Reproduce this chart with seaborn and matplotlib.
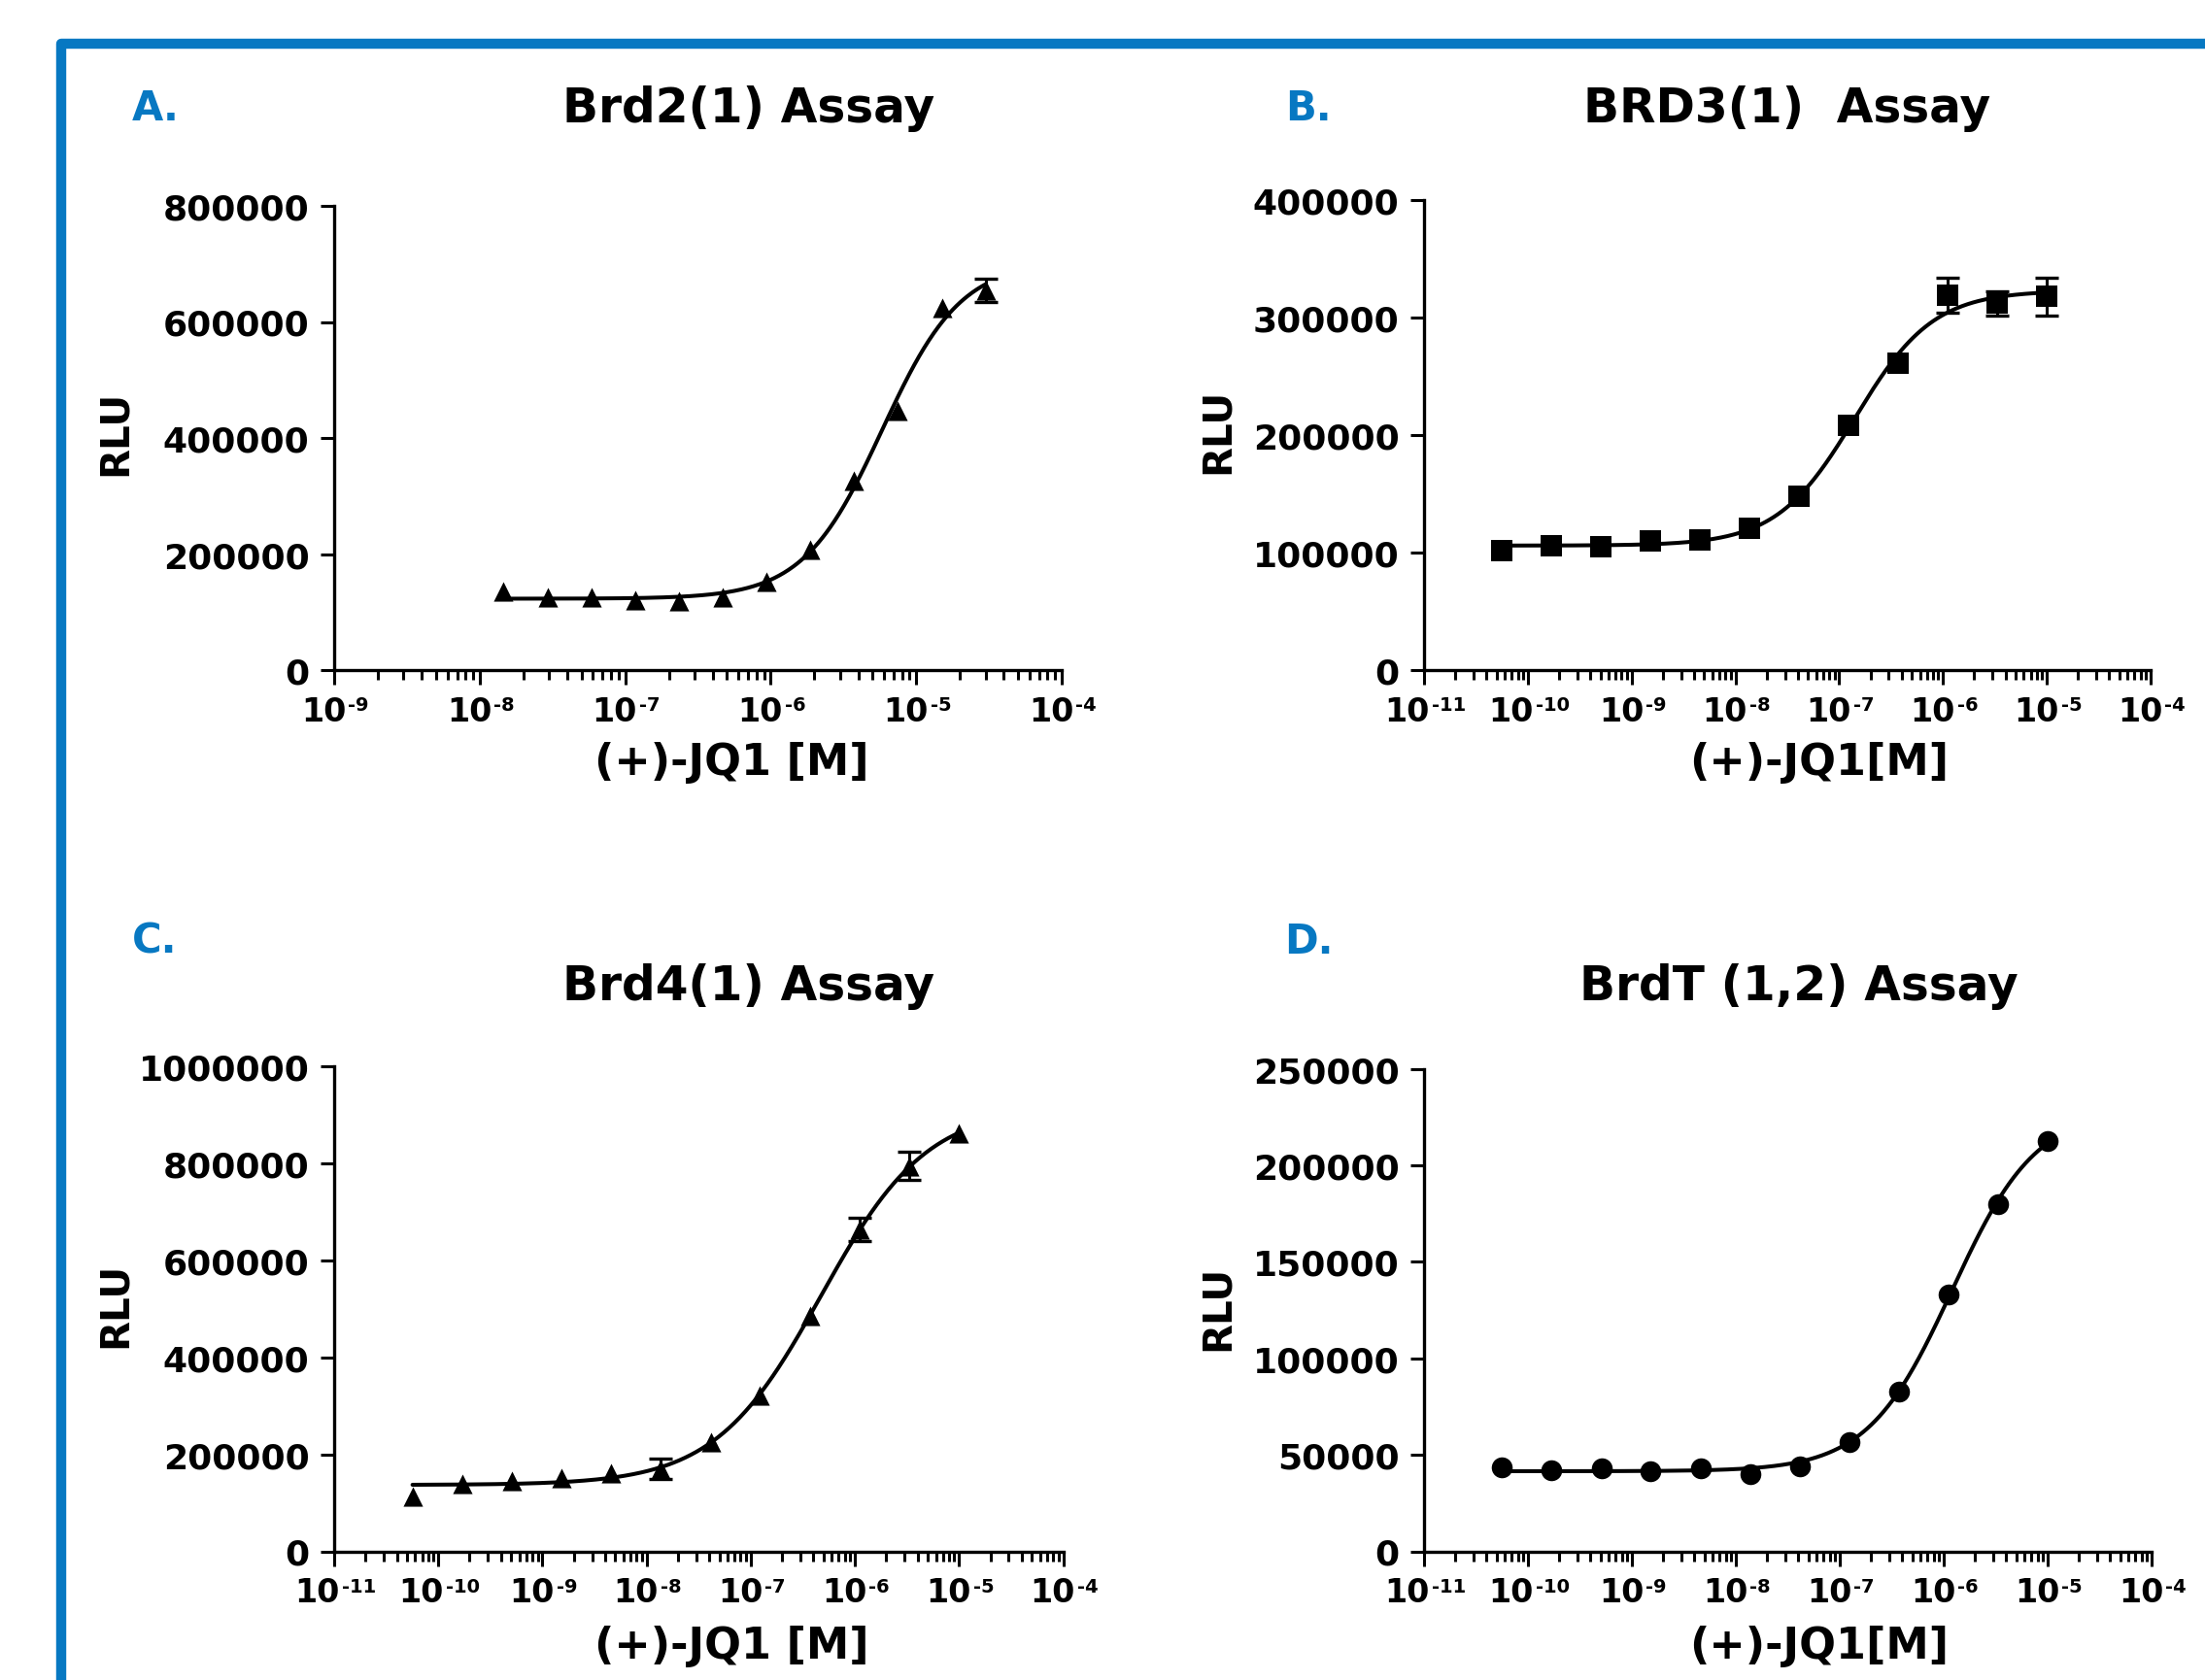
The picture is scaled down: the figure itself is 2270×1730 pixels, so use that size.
import numpy as np
import matplotlib
matplotlib.use("Agg")
import matplotlib.pyplot as plt
from matplotlib.lines import Line2D
from matplotlib.ticker import FixedLocator, FixedFormatter, LogLocator, NullFormatter
import seaborn as sns

# ---------------------------------------------------------------- data
# Brd2(1): 2-fold dilution series from 30 uM
conc_a = [1.46e-8, 2.93e-8, 5.86e-8, 1.17e-7, 2.34e-7, 4.69e-7,
          9.38e-7, 1.88e-6, 3.75e-6, 7.5e-6, 1.5e-5, 3.0e-5]
rlu_a = [136000, 125000, 125000, 120000, 119000, 125000,
         152000, 207000, 326000, 447000, 624000, 655000]
sd_a = [0, 0, 0, 0, 0, 0, 0, 0, 0, 0, 0, 20000]

# BRD3(1), Brd4(1), BrdT(1,2): 3-fold dilution series from 10 uM
conc_3fold = [5.65e-11, 1.69e-10, 5.08e-10, 1.52e-9, 4.57e-9, 1.37e-8,
              4.12e-8, 1.23e-7, 3.70e-7, 1.11e-6, 3.33e-6, 1.0e-5]
rlu_b = [102000, 106000, 105000, 110000, 111000, 121000,
         148000, 208000, 261000, 319000, 312000, 318000]
sd_b = [0, 0, 0, 0, 0, 0, 0, 0, 0, 14500, 10000, 16000]

rlu_c = [114000, 140000, 146000, 152000, 161000, 170000,
         226000, 321000, 486000, 663000, 794000, 862000]
sd_c = [0, 0, 0, 0, 0, 21000, 0, 0, 0, 24000, 29000, 0]

rlu_d = [43400, 42100, 42900, 41600, 42900, 40200,
         44200, 56500, 82600, 133000, 179600, 212400]
sd_d = [0] * 12

panel_letters = ["A.", "B.", "C.", "D."]
titles = ["Brd2(1) Assay", "BRD3(1)  Assay", "Brd4(1) Assay", "BrdT (1,2) Assay"]
xlabels = ["(+)-JQ1 [M]", "(+)-JQ1[M]", "(+)-JQ1 [M]", "(+)-JQ1[M]"]
ylabel = "RLU"
x_decades = [(-9, -4), (-11, -4), (-11, -4), (-11, -4)]
y_ticks = [
    [0, 200000, 400000, 600000, 800000],
    [0, 100000, 200000, 300000, 400000],
    [0, 200000, 400000, 600000, 800000, 1000000],
    [0, 50000, 100000, 150000, 200000, 250000],
]
markers = ["^", "s", "^", "o"]

# ---------------------------------------------------------------- style
sns.set_style("ticks")
plt.rcParams["font.family"] = ["DejaVu Sans"]
plt.rcParams["font.weight"] = "bold"

BLUE = "#0778C2"
W, H = 2270, 1731
DPI = 100

fig = plt.figure(figsize=(W / DPI, H / DPI), dpi=DPI, facecolor="white")
renderer = fig.canvas.get_renderer()


def frac_rect(left, right, top, bottom):
    return [left / W, 1 - bottom / H, (right - left) / W, (bottom - top) / H]


def fx(px):
    return px / W


def fy(py):
    return 1 - py / H


def fit_4pl(x, y):
    """Least-squares four-parameter logistic fit (grid over EC50/Hill,
    closed-form bottom/top)."""
    lx = np.log10(np.asarray(x, float))
    y = np.asarray(y, float)
    cs = np.linspace(lx.min() - 0.5, lx.max() + 1.0, 451)
    hs = np.linspace(0.4, 2.5, 211)
    C, Hh = np.meshgrid(cs, hs, indexing="ij")
    f = 1.0 / (1.0 + 10 ** ((C[..., None] - lx) * Hh[..., None]))
    n = len(lx)
    sf = f.sum(-1)
    sff = (f * f).sum(-1)
    sy = y.sum()
    sfy = (f * y).sum(-1)
    det = n * sff - sf ** 2
    det = np.where(np.abs(det) < 1e-12, np.nan, det)
    b = (sff * sy - sf * sfy) / det
    span = (n * sfy - sf * sy) / det
    res = ((b[..., None] + span[..., None] * f - y) ** 2).sum(-1)
    res = np.where(np.isnan(res), np.inf, res)
    i = np.unravel_index(np.argmin(res), res.shape)
    return b[i], b[i] + span[i], cs[i[0]], hs[i[1]]


def logistic(x, bottom, top, logec50, hill):
    return bottom + (top - bottom) / (1 + 10 ** ((logec50 - np.log10(x)) * hill))


def power_label(ax, exponent):
    """Decade tick label drawn as '10' with a small raised exponent,
    the pair centred under the tick."""
    kw = dict(xy=(10.0 ** exponent, 0), xycoords=("data", "axes fraction"),
              textcoords="offset pixels", va="baseline", fontweight="bold",
              color="black", annotation_clip=False)
    base = ax.annotate("10", xytext=(0, -52), ha="right", fontsize=24, **kw)
    sup = ax.annotate("-%d" % (-exponent), xytext=(0, -41), ha="left",
                      fontsize=14, **kw)
    w1 = base.get_window_extent(renderer).width
    w2 = sup.get_window_extent(renderer).width
    d = (w1 - w2) / 2.0
    base.xyann = (d, -52)
    sup.xyann = (d + 2, -41)


panels = [
    dict(conc=conc_a, rlu=rlu_a, sd=sd_a,
         rect=frac_rect(344, 1093, 213, 691),
         title_xy=(771, 126), letter_xy=(136, 124), ylab_xy=(119, 446), xlab_xy=(753, 798)),
    dict(conc=conc_3fold, rlu=rlu_b, sd=sd_b,
         rect=frac_rect(1466, 2214, 207, 691),
         title_xy=(1840, 126), letter_xy=(1323, 124), ylab_xy=(1254, 444), xlab_xy=(1873, 798)),
    dict(conc=conc_3fold, rlu=rlu_c, sd=sd_c,
         rect=frac_rect(344, 1094.5, 1099, 1598.5),
         title_xy=(771, 1030), letter_xy=(136, 982), ylab_xy=(119, 1344), xlab_xy=(753, 1708)),
    dict(conc=conc_3fold, rlu=rlu_d, sd=sd_d,
         rect=frac_rect(1466, 2215, 1101.5, 1598.5),
         title_xy=(1852, 1030), letter_xy=(1322, 982), ylab_xy=(1254, 1347), xlab_xy=(1873, 1708)),
]

marker_sizes = {"^": 14.5, "s": 16, "o": 15.5}

for k, p in enumerate(panels):
    ax = fig.add_axes(p["rect"])
    ax.set_xscale("log")
    lo, hi = x_decades[k]
    ax.set_xlim(10.0 ** lo, 10.0 ** hi)
    ax.set_ylim(y_ticks[k][0], y_ticks[k][-1])

    x = np.asarray(p["conc"], float)
    y = np.asarray(p["rlu"], float)
    sd = np.asarray(p["sd"], float)

    # fitted dose-response curve over the tested range
    bottom, top, logec50, hill = fit_4pl(x, y)
    xs = np.logspace(np.log10(x.min()), np.log10(x.max()), 400)
    ys = logistic(xs, bottom, top, logec50, hill)
    sns.lineplot(x=xs, y=ys, ax=ax, color="black", linewidth=2.9,
                 estimator=None, sort=False, zorder=2)

    # error bars (SD) where present
    m = sd > 0
    if m.any():
        ax.errorbar(x[m], y[m], yerr=sd[m], fmt="none", ecolor="black",
                    elinewidth=2.2, capsize=8.3, capthick=2.4, zorder=3)

    mk = markers[k]
    ms = marker_sizes[mk]
    sns.scatterplot(x=x, y=y, ax=ax, marker=mk, s=ms ** 2, color="black",
                    edgecolor="black", linewidth=0, zorder=4, legend=False)

    # axes decoration
    sns.despine(ax=ax)
    for side in ("left", "bottom"):
        ax.spines[side].set_linewidth(2.4)
        ax.spines[side].set_color("black")

    decades = list(range(lo, hi + 1))
    ax.xaxis.set_major_locator(FixedLocator([10.0 ** e for e in decades]))
    ax.xaxis.set_major_formatter(NullFormatter())
    ax.xaxis.set_minor_locator(LogLocator(base=10, subs=np.arange(2, 10), numticks=50))
    ax.xaxis.set_minor_formatter(NullFormatter())
    for e in decades:
        power_label(ax, e)

    ax.yaxis.set_major_locator(FixedLocator(y_ticks[k]))
    ax.yaxis.set_major_formatter(FixedFormatter([str(v) for v in y_ticks[k]]))

    ax.tick_params(axis="x", which="major", direction="out", length=10.8, width=2.2,
                   colors="black")
    ax.tick_params(axis="x", which="minor", direction="out", length=7.2, width=2.2,
                   colors="black")
    ax.tick_params(axis="y", which="major", direction="out", length=10.4, width=2.2,
                   pad=8, labelsize=26, colors="black")
    ax.set_xlabel("")
    ax.set_ylabel("")
    ax.set_facecolor("none")

    # panel texts
    tx, ty = p["title_xy"]
    fig.text(fx(tx), fy(ty), titles[k], ha="center", va="baseline",
             fontsize=35, fontweight="bold", color="black")
    lx_, ly_ = p["letter_xy"]
    fig.text(fx(lx_), fy(ly_), panel_letters[k], ha="left", va="baseline",
             fontsize=30, fontweight="bold", color=BLUE)
    yx, yy = p["ylab_xy"]
    fig.text(fx(yx), fy(yy), ylabel, ha="center", va="center", rotation=90,
             fontsize=29, fontweight="bold", color="black")
    xx, xy = p["xlab_xy"]
    fig.text(fx(xx), fy(xy), xlabels[k], ha="center", va="baseline",
             fontsize=32, fontweight="bold", color="black")

# blue frame along the top and left edges
frame = Line2D([fx(62.7), fx(62.7), 1.02], [-0.02, fy(46), fy(46)],
               transform=fig.transFigure, color=BLUE, linewidth=7.5,
               solid_joinstyle="round", solid_capstyle="butt")
fig.add_artist(frame)

fig.savefig("out.png", dpi=DPI, facecolor="white")
